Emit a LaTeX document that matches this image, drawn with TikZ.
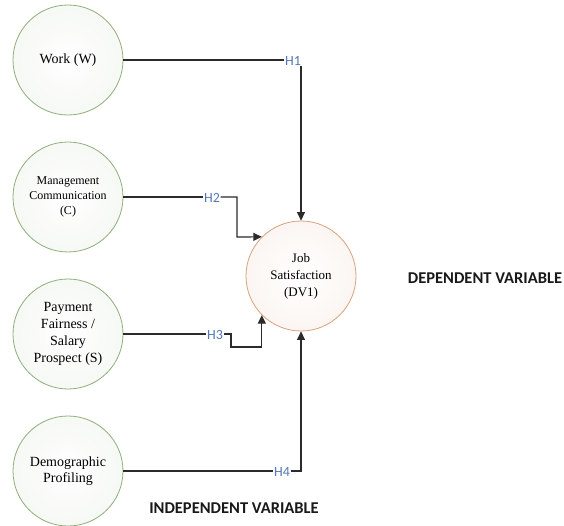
\documentclass[tikz,border=0pt]{standalone}
\usepackage{fontspec}
\setmainfont{Liberation Serif}
\newfontfamily\calib{Carlito}
\usetikzlibrary{arrows.meta}
\definecolor{ivgreen}{HTML}{8FAE7A}
\definecolor{dvorange}{HTML}{D9A27E}
\definecolor{hblue}{HTML}{5479B4}
\definecolor{linegray}{HTML}{2B2B2B}
\begin{document}
\begin{tikzpicture}[x=1pt,y=-1pt,
  ivnode/.style={circle,draw=ivgreen,line width=0.8pt,minimum size=110pt,inner sep=0pt,
    align=center,shading=radial,inner color=white,outer color=ivgreen!8},
  dvnode/.style={circle,draw=dvorange,line width=0.8pt,minimum size=110pt,inner sep=0pt,
    align=center,shading=radial,inner color=white,outer color=dvorange!10},
  hlabel/.style={font=\calib\fontsize{14}{15}\selectfont,text=hblue,inner sep=0.5pt,fill=white},
  conn/.style={draw=linegray,line width=1.2pt},
  arr/.style={conn,-{Triangle[length=8.5pt,width=8pt]}},
  vartext/.style={font=\calib\bfseries\fontsize{16.5}{18}\selectfont,text=black!90}
]
\useasboundingbox (0,0) rectangle (564,526);
\fill[white] (0,0) rectangle (564,526);

\node[ivnode,font=\fontsize{14}{16}\selectfont] (W) at (68,60) {Work (W)};
\node[ivnode,font=\fontsize{12}{15}\selectfont] (C) at (68,197) {Management\\Communication\\(C)};
\node[ivnode,font=\fontsize{14}{17}\selectfont] (S) at (68,334) {Payment\\Fairness /\\Salary\\Prospect (S)};
\node[ivnode,font=\fontsize{14}{16.5}\selectfont] (D) at (68,471) {Demographic\\Profiling};
\node[dvnode,font=\fontsize{13}{17}\selectfont] (J) at (301,276) {Job\\Satisfaction\\(DV1)};

\node[hlabel] (h1) at (293,61) {H1};
\node[hlabel] (h2) at (212,198) {H2};
\node[hlabel] (h3) at (215,335) {H3};
\node[hlabel] (h4) at (282,472) {H4};

\coordinate (k2) at (237,237);
\coordinate (k3) at (231,347);

\draw[conn] (W) -- (W -| h1.west);
\draw[arr] (J.north |- h1.south) -- (J.north);

\draw[conn] (C) -- (C -| h2.west);
\draw[arr] (C -| h2.east) -| (k2) -- (J.135);

\draw[conn] (S) -- (S -| h3.west);
\draw[arr] (S -| h3.east) -| (k3) -| (J.225);

\draw[conn] (D) -- (D -| h4.west);
\draw[arr] (D -| h4.east) -| (J.south);

\node[vartext] (iv) at (234,508) {INDEPENDENT VARIABLE};
\node[vartext] (dv) at (485,278) {DEPENDENT VARIABLE};
\end{tikzpicture}
\end{document}
